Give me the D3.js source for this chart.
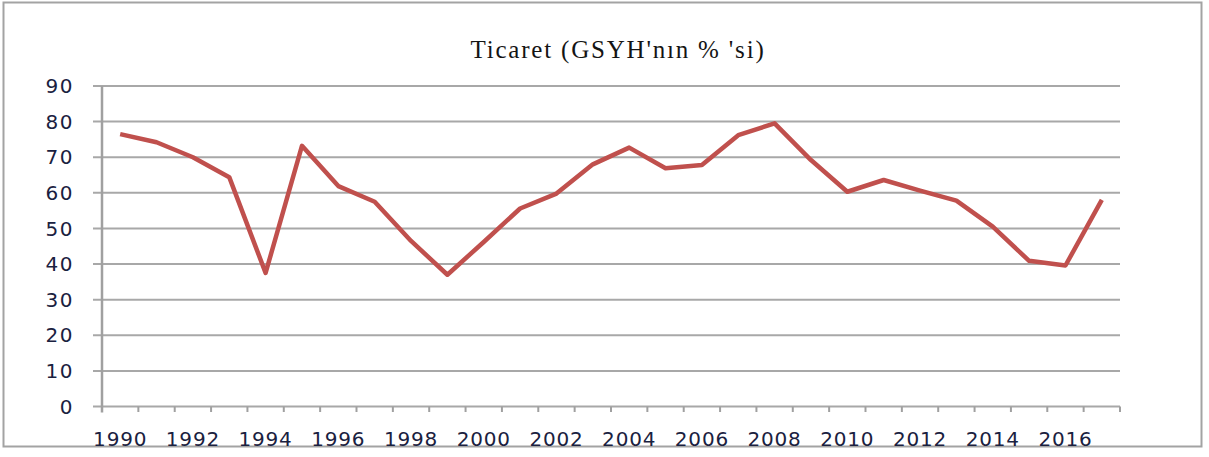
<!DOCTYPE html>
<html>
<head>
<meta charset="utf-8">
<script src="https://d3js.org/d3.v7.min.js"></script>
<style>
  body { margin: 0; background: #fff; }
  .lbl { font-family: "DejaVu Sans", Verdana, sans-serif; font-size: 20px; fill: #1a2140; }
  .title { font-family: "Liberation Serif", "Times New Roman", serif; font-size: 25px; fill: #141414; }
</style>
</head>
<body>
<div id="chart"></div>
<script>
// data
var years = d3.range(1990, 2018);
var trade = [76.5, 74.2, 70, 64.4, 37.5, 73.2, 61.9, 57.5, 46.5, 37, 46.2, 55.6, 59.8,
             68, 72.7, 66.9, 67.8, 76.2, 79.5, 69.2, 60.3, 63.6, 60.6, 57.8, 50.5, 40.9, 39.6, 58];
var yTicks = [0, 10, 20, 30, 40, 50, 60, 70, 80, 90];
var xLabels = [1990, 1992, 1994, 1996, 1998, 2000, 2002, 2004, 2006, 2008, 2010, 2012, 2014, 2016];
var title = "Ticaret (GSYH'n\u0131n % 'si)";

var W = 1209, H = 457;
var plotL = 102, plotR = 1120, plotT = 86, plotB = 406.5;

var svg = d3.select("#chart").append("svg")
  .attr("width", W).attr("height", H);

// outer frame
svg.append("rect")
  .attr("x", 3.5).attr("y", 2.5).attr("width", 1198).attr("height", 444)
  .attr("fill", "none").attr("stroke", "#a3a3a3").attr("stroke-width", 2);

var x = d3.scaleBand().domain(years).range([plotL, plotR]).padding(0);
var y = d3.scaleLinear().domain([0, 90]).range([plotB, plotT]);

// gridlines + y tick stubs
svg.append("g").selectAll("line")
  .data(yTicks).enter().append("line")
  .attr("x1", plotL - 9).attr("x2", plotR)
  .attr("y1", function (d) { return y(d); })
  .attr("y2", function (d) { return y(d); })
  .attr("stroke", "#a8a8a8").attr("stroke-width", 2);

// y labels
svg.append("g").selectAll("text")
  .data(yTicks).enter().append("text")
  .attr("class", "lbl")
  .attr("x", 74)
  .attr("y", function (d) { return y(d); })
  .attr("dy", "0.36em")
  .attr("text-anchor", "end")
  .style("letter-spacing", "1.5px")
  .text(function (d) { return d; });

// y axis line
svg.append("line")
  .attr("x1", plotL).attr("x2", plotL).attr("y1", plotT).attr("y2", plotB + 6)
  .attr("stroke", "#a0a0a0").attr("stroke-width", 2.5);

// x ticks at category boundaries
var bounds = years.map(function (d) { return x(d); }).concat([x.range()[1]]);
svg.append("g").selectAll("line")
  .data(bounds).enter().append("line")
  .attr("x1", function (d) { return d; }).attr("x2", function (d) { return d; })
  .attr("y1", plotB).attr("y2", plotB + 5.5)
  .attr("stroke", "#a0a0a0").attr("stroke-width", 2);

// x labels
svg.append("g").selectAll("text")
  .data(xLabels).enter().append("text")
  .attr("class", "lbl")
  .attr("x", function (d) { return x(d) + x.bandwidth() / 2; })
  .attr("y", 446)
  .attr("text-anchor", "middle")
  .style("letter-spacing", "0.8px")
  .text(function (d) { return d; });

// title
svg.append("text")
  .attr("class", "title")
  .attr("x", 618).attr("y", 58)
  .attr("text-anchor", "middle")
  .style("letter-spacing", "1.8px")
  .text(title);

// the line
var line = d3.line()
  .x(function (d, i) { return x(years[i]) + x.bandwidth() / 2; })
  .y(function (d) { return y(d); });

svg.append("path")
  .datum(trade)
  .attr("d", line)
  .attr("fill", "none")
  .attr("stroke", "#c0504d")
  .attr("stroke-width", 4.5)
  .attr("stroke-linejoin", "round");
</script>
</body>
</html>
